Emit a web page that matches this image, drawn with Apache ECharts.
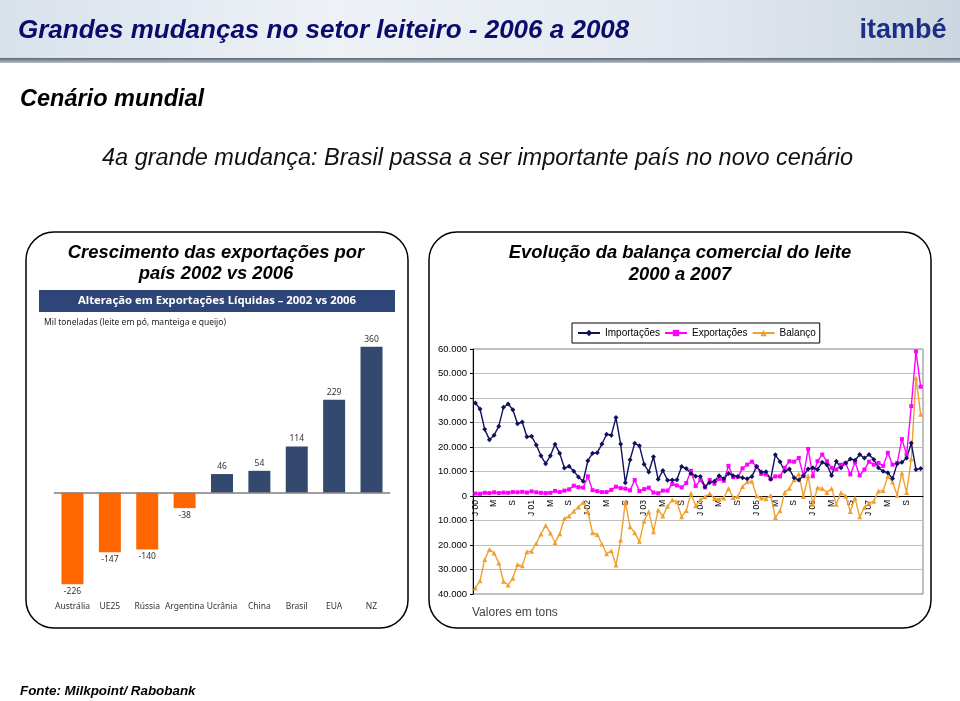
<!DOCTYPE html>
<html><head><meta charset="utf-8">
<script src="https://cdn.jsdelivr.net/npm/echarts@6/dist/echarts.min.js"></script>
<style>html,body{margin:0;padding:0;background:#fff}#c{width:960px;height:701px}</style>
</head><body><div id="c"></div>
<script>
// ---- Left chart data ----
const countries = ['Austrália','UE25','Rússia','Argentina','Ucrânia','China','Brasil','EUA','NZ'];
const netExportChange = [-226,-147,-140,-38,46,54,114,229,360];

// ---- Right chart data (monthly 2000-2007, tons) ----
const monthLetters = ['J','F','M','A','M','J','J','A','S','O','N','D'];
const years = ['00','01','02','03','04','05','06','07'];
const importacoes = [
38000,35500,27200,23000,24800,28500,36200,37600,35200,29500,30200,24200,
24400,20800,16400,13200,16400,21100,17400,11400,12100,10100,7800,6000,
14400,17400,17700,21200,25200,24800,32000,21200,5400,14800,21500,20500,
13000,9800,16000,6800,10400,6400,6500,6600,12000,11200,9200,8100,
8000,3800,5500,6000,8300,7000,9200,8300,8000,7400,7000,8000,
12000,9800,9900,6800,16800,14000,10100,11000,7400,6500,8300,11000,
11500,10800,13800,12800,8400,14200,11500,13500,15100,14600,16900,15500,
16900,14900,11500,10100,9500,7100,13200,13800,15500,21600,10800,11200];
const exportacoes = [
1000,900,1300,1200,1500,1200,1400,1300,1600,1500,1700,1400,
1900,1500,1300,1200,1300,2100,1600,2200,2700,4200,3600,3400,
8000,2400,2000,1600,1600,2500,3800,3200,3000,2300,6500,2000,
2800,3400,1400,1100,2200,2200,4900,4300,3500,5300,10300,4100,
6500,3500,6500,5000,7000,6200,12300,7700,7800,11300,12800,14000,
12000,9000,8800,7000,8000,8000,11500,14200,14000,15500,8100,19200,
8100,14200,16900,14200,11500,10800,12800,13500,8800,13800,8400,10800,
14000,12800,13500,12300,17600,12800,13500,23200,16900,36700,59000,44600];
const balanco = [
-37500,-34600,-25900,-21800,-23300,-27300,-34800,-36300,-33600,-28000,-28500,-22800,
-22500,-19300,-15500,-12000,-15100,-19000,-15400,-9200,-8200,-6200,-4500,-2600,
-6400,-15000,-15700,-19600,-23600,-22300,-28200,-18000,-2400,-12500,-15000,-18500,
-10200,-6400,-14600,-5700,-8200,-4200,-1600,-2300,-8500,-5900,1100,-4000,
-1500,-300,1000,-1000,-1300,-800,3100,-600,-200,3900,5800,6000,
0,-800,-1100,200,-8800,-6000,1400,3200,6600,9000,-200,8200,
-3400,3400,3100,1400,3100,-3400,1300,0,-6300,-800,-8500,-4700,
-2900,-2100,2000,2200,8100,5700,300,9400,1400,15100,48200,33400];
const yTicks = {min:-40000, max:60000, step:10000};

const monthLabels = [];
years.forEach(y => monthLetters.forEach((m,i) => monthLabels.push(i===0 ? m+' '+y : m)));

const SANS = '"Liberation Sans", Arial, sans-serif';
const chart = echarts.init(document.getElementById('c'), null, {renderer:'canvas'});

const txt = (text, x, y, font, fill, align) => ({type:'text', z:100, style:{text, x, y, font, fill: fill||'#000', textAlign: align||'left', textVerticalAlign:'middle'}});

const G2 = {left:473, top:349, width:450, height:245};
const zeroOffset = -G2.height * (0 - yTicks.min) / (yTicks.max - yTicks.min);

const option = {
  animation:false,
  backgroundColor:'#ffffff',
  graphic:[
    {type:'rect', z:1, shape:{x:0,y:0,width:960,height:59}, style:{fill:{type:'linear',x:0,y:0,x2:1,y2:0,colorStops:[{offset:0,color:'#d9e1eb'},{offset:0.35,color:'#eef2f7'},{offset:0.7,color:'#e3e9f0'},{offset:1,color:'#cdd6e0'}]}}},
    {type:'rect', z:1, shape:{x:0,y:58,width:960,height:5}, style:{fill:{type:'linear',x:0,y:0,x2:0,y2:1,colorStops:[{offset:0,color:'#5c6670'},{offset:1,color:'#b9c2cb'}]}}},
    txt('Grandes mudanças no setor leiteiro - 2006 a 2008', 18, 31, 'italic bold 26px '+SANS, '#0b0b6b'),
    txt('itambé', 903, 31, 'bold 27px '+SANS, '#1c2f86', 'center'),
    txt('Cenário mundial', 20, 100, 'italic bold 23.5px '+SANS, '#000'),
    txt('4a grande mudança: Brasil passa a ser importante país no novo cenário', 102, 158, 'italic 23.5px '+SANS, '#111'),
    {type:'rect', z:1, shape:{x:26,y:232,width:382,height:396,r:28}, style:{fill:'none', stroke:'#000', lineWidth:1.5}},
    {type:'rect', z:1, shape:{x:429,y:232,width:502,height:396,r:28}, style:{fill:'none', stroke:'#000', lineWidth:1.5}},
    txt('Crescimento das exportações por', 216, 253, 'italic bold 18.4px '+SANS, '#000', 'center'),
    txt('país 2002 vs 2006', 216, 274, 'italic bold 18.4px '+SANS, '#000', 'center'),
    txt('Evolução da balança comercial do leite', 680, 253, 'italic bold 18.4px '+SANS, '#000', 'center'),
    txt('2000 a 2007', 680, 275, 'italic bold 18.4px '+SANS, '#000', 'center'),
    {type:'rect', z:1, shape:{x:39,y:290,width:356,height:22}, style:{fill:'#2e4578'}},
    txt('Alteração em Exportações Líquidas – 2002 vs 2006', 217, 301, 'bold 11.3px "Noto Sans", sans-serif', '#fff', 'center'),
    txt('Mil toneladas (leite em pó, manteiga e queijo)', 44, 323, '8.5px "Noto Sans", sans-serif', '#222'),
    txt('Valores em tons', 472, 613, '12px '+SANS, '#444'),
    txt('Fonte: Milkpoint/ Rabobank', 20, 691, 'italic bold 13.4px '+SANS, '#000')
  ],
  legend:{
    data:['Importações','Exportações','Balanço'],
    left:572, top:323, orient:'horizontal',
    borderColor:'#000', borderWidth:1, backgroundColor:'#fff',
    padding:[5,4,5,5], itemGap:4, itemWidth:22, itemHeight:8,
    selectedMode:false,
    textStyle:{fontSize:10, color:'#000', fontFamily:SANS}
  },
  grid:[
    {left:53.8, top:330.5, width:336.4, height:263.6},
    Object.assign({show:true, borderColor:'#808080', borderWidth:1}, G2)
  ],
  xAxis:[
    {gridIndex:0, type:'category', data:countries,
     axisLine:{show:false}, axisTick:{show:false},
     axisLabel:{interval:0, fontSize:8.5, color:'#333', margin:8, fontFamily:'"Noto Sans", sans-serif'}},
    {gridIndex:1, type:'category', data:monthLabels, boundaryGap:true,
     position:'bottom', offset:zeroOffset,
     axisLine:{onZero:false, lineStyle:{color:'#000', width:1}},
     axisTick:{interval:0, length:3, lineStyle:{color:'#000'}},
     axisLabel:{interval:3, rotate:90, fontSize:8.5, margin:4, color:'#000', fontFamily:SANS}}
  ],
  yAxis:[
    {gridIndex:0, type:'value', min:-250, max:400, show:false},
    {gridIndex:1, type:'value', min:yTicks.min, max:yTicks.max, interval:yTicks.step,
     axisLine:{show:true, lineStyle:{color:'#000'}},
     axisTick:{show:true, length:3, lineStyle:{color:'#000'}},
     splitLine:{lineStyle:{color:'#bfbfbf', width:1}},
     axisLabel:{fontSize:9.5, color:'#000', margin:6, fontFamily:SANS,
       formatter:v => v===0 ? '0' : (Math.abs(v)/1000)+'.000'}}
  ],
  series:[
    {type:'bar', xAxisIndex:0, yAxisIndex:0, barWidth:22,
     data: netExportChange.map(v => ({
       value:v,
       itemStyle:{color: v<0 ? '#ff6600' : '#34496e'},
       label:{show:true, position: v<0 ? 'bottom' : 'top', distance:3, fontSize:8.5, color:'#333', fontFamily:'"Noto Sans", sans-serif'}
     })),
     markLine:{silent:true, symbol:'none', label:{show:false}, lineStyle:{color:'#7f7f7f', width:1.5, type:'solid'}, data:[{yAxis:0}]}
    },
    {type:'line', name:'Balanço', xAxisIndex:1, yAxisIndex:1, data:balanco, showAllSymbol:true,
     symbol:'triangle', symbolSize:5, lineStyle:{color:'#f0a030', width:1.4}, itemStyle:{color:'#f0a030'}},
    {type:'line', name:'Exportações', xAxisIndex:1, yAxisIndex:1, data:exportacoes, showAllSymbol:true,
     symbol:'rect', symbolSize:4, lineStyle:{color:'#ff00ff', width:1.4}, itemStyle:{color:'#ff00ff'}},
    {type:'line', name:'Importações', xAxisIndex:1, yAxisIndex:1, data:importacoes, showAllSymbol:true,
     symbol:'diamond', symbolSize:5, lineStyle:{color:'#10105e', width:1.4}, itemStyle:{color:'#10105e'}}
  ]
};
chart.setOption(option);
</script>
</body></html>
